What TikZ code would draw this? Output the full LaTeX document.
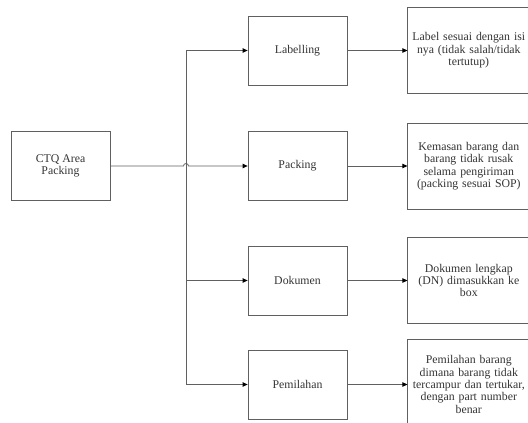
\documentclass[tikz,border=0pt]{standalone}
\usepackage{fontspec}
\setmainfont{Liberation Serif}
\usetikzlibrary{positioning, arrows.meta}

\tikzset{
  blok/.style={draw=gray!75!black, line width=0.8pt, minimum width=99pt, minimum height=69pt,
    align=center, text=black!80, font=\fontsize{11.8}{12.4}\selectfont},
  hasil/.style={blok, minimum width=122pt, minimum height=86pt, text width=121pt, inner xsep=0.5pt},
  garis/.style={draw=gray!75!black, line width=0.8pt},
  panah/.style={garis, -{Triangle[length=5pt, width=4.5pt, black]}}
}

\begin{document}
\begin{tikzpicture}[x=1pt, y=-1pt]
  \useasboundingbox (0,0) rectangle (528,423);
  \clip (0,0) rectangle (528,423);

  \node[blok] (ctq) at (60.5,166) {CTQ Area\\Packing};
  \node[blok] (lab) at (297.5,50.5) {Labelling};
  \node[blok] (pack) at (297.5,166) {Packing};
  \node[blok] (dok) at (297.5,280.5) {Dokumen};
  \node[blok] (pem) at (297.5,384.5) {Pemilahan};

  \node[hasil] (hlab) [right=60pt of lab] {Label sesuai dengan isi\\nya (tidak salah/tidak\\tertutup)};
  \node[hasil] (hpack) [right=60pt of pack] {Kemasan barang dan\\barang tidak rusak\\selama pengiriman\\(packing sesuai SOP)};
  \node[hasil] (hdok) [right=60pt of dok] {Dokumen lengkap\\(DN) dimasukkan ke\\box};
  \node[hasil, minimum height=90pt] (hpem) [right=60pt of pem] {Pemilahan barang\\dimana barang tidak\\tercampur dan tertukar,\\dengan part number\\benar};

  \coordinate (cab) at (186,166);
  \draw[garis] (lab.west -| cab) -- (pem.west -| cab);
  \draw[panah] (ctq.east) -- ([xshift=-2.5pt]cab) arc[start angle=180, end angle=0, radius=2.5pt] -- (pack.west);
  \draw[panah] (lab.west -| cab) -- (lab.west);
  \draw[panah] (dok.west -| cab) -- (dok.west);
  \draw[panah] (pem.west -| cab) -- (pem.west);

  \draw[panah] (lab) -- (hlab);
  \draw[panah] (pack) -- (hpack);
  \draw[panah] (dok) -- (hdok);
  \draw[panah] (pem) -- (hpem);
\end{tikzpicture}
\end{document}
